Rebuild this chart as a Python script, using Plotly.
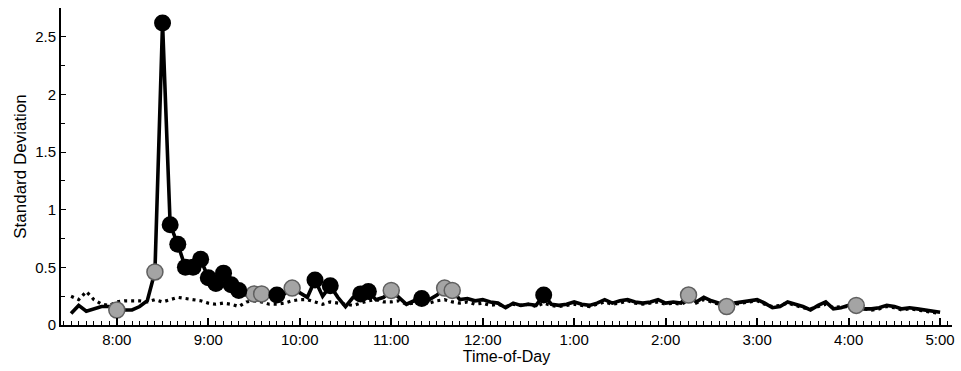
import plotly.graph_objects as go

# time in hours (7:30 .. 17:00, 5-minute steps)
start_hour = 7.5
step_hours = 1.0 / 12.0

solid_sd = [
    0.10, 0.17, 0.12, 0.14, 0.16, 0.16, 0.13, 0.13, 0.13, 0.16,
    0.21, 0.46, 2.62, 0.87, 0.70, 0.50, 0.50, 0.57, 0.41, 0.36,
    0.45, 0.35, 0.30, 0.26, 0.27, 0.27, 0.25, 0.26, 0.27, 0.32,
    0.28, 0.24, 0.39, 0.25, 0.34, 0.24, 0.16, 0.24, 0.27, 0.29,
    0.22, 0.24, 0.30, 0.24, 0.18, 0.21, 0.23, 0.22, 0.26, 0.32,
    0.30, 0.22, 0.23, 0.21, 0.22, 0.20, 0.19, 0.15, 0.19, 0.17,
    0.18, 0.17, 0.26, 0.18, 0.17, 0.18, 0.20, 0.18, 0.17, 0.19,
    0.22, 0.19, 0.21, 0.22, 0.20, 0.19, 0.20, 0.22, 0.19, 0.20,
    0.19, 0.26, 0.20, 0.24, 0.21, 0.19, 0.16, 0.19, 0.20, 0.21,
    0.22, 0.19, 0.15, 0.16, 0.20, 0.18, 0.16, 0.13, 0.17, 0.20,
    0.14, 0.15, 0.17, 0.17, 0.14, 0.14, 0.15, 0.17, 0.16, 0.14,
    0.15, 0.14, 0.13, 0.12, 0.11,
]

dashed_sd = [
    0.25, 0.22, 0.29, 0.22, 0.18, 0.17, 0.20, 0.21, 0.21, 0.21,
    0.20, 0.22, 0.20, 0.22, 0.24, 0.23, 0.22, 0.21, 0.19, 0.18,
    0.19, 0.18, 0.16, 0.20, 0.21, 0.20, 0.18, 0.18, 0.19, 0.21,
    0.22, 0.22, 0.20, 0.18, 0.20, 0.19, 0.18, 0.17, 0.19, 0.21,
    0.22, 0.20, 0.20, 0.21, 0.18, 0.19, 0.20, 0.19, 0.21, 0.22,
    0.20, 0.19, 0.20, 0.18, 0.19, 0.17, 0.18, 0.16, 0.18, 0.17,
    0.18, 0.16, 0.19, 0.17, 0.16, 0.17, 0.18, 0.17, 0.16, 0.18,
    0.20, 0.18, 0.19, 0.21, 0.19, 0.18, 0.19, 0.20, 0.18, 0.19,
    0.18, 0.21, 0.19, 0.22, 0.20, 0.18, 0.17, 0.18, 0.19, 0.20,
    0.21, 0.18, 0.16, 0.17, 0.19, 0.17, 0.15, 0.14, 0.16, 0.18,
    0.15, 0.16, 0.16, 0.16, 0.14, 0.13, 0.14, 0.16, 0.15, 0.13,
    0.14, 0.13, 0.12, 0.11, 0.10,
]

# indices (into the 5-minute grid) of highlighted points on the solid line
black_idx = [12, 13, 14, 15, 16, 17, 18, 19, 20, 21, 22, 27, 32, 34, 38, 39, 46, 62]
gray_idx = [6, 11, 24, 25, 29, 42, 49, 50, 81, 86, 103]

tick_hours = [8, 9, 10, 11, 12, 13, 14, 15, 16, 17]
tick_labels = ["8:00", "9:00", "10:00", "11:00", "12:00", "1:00", "2:00", "3:00", "4:00", "5:00"]
y_ticks = [0, 0.5, 1, 1.5, 2, 2.5]
y_labels = ["0", "0.5", "1", "1.5", "2", "2.5"]

times = [start_hour + i * step_hours for i in range(len(solid_sd))]

fig = go.Figure()
fig.add_trace(go.Scatter(
    x=times, y=dashed_sd, mode="lines",
    line=dict(color="black", width=3.2, dash="3px,4px"),
))
fig.add_trace(go.Scatter(
    x=times, y=solid_sd, mode="lines",
    line=dict(color="black", width=3.6),
))
fig.add_trace(go.Scatter(
    x=[times[i] for i in gray_idx], y=[solid_sd[i] for i in gray_idx], mode="markers",
    marker=dict(size=16, color="#a4a4a4", line=dict(color="#606060", width=1.5)),
))
fig.add_trace(go.Scatter(
    x=[times[i] for i in black_idx], y=[solid_sd[i] for i in black_idx], mode="markers",
    marker=dict(size=17, color="black", line=dict(color="black", width=0)),
))

font = "Liberation Sans, Arial, sans-serif"
fig.update_layout(
    width=961, height=371,
    margin=dict(l=61, r=6, t=8, b=46),
    paper_bgcolor="white", plot_bgcolor="white",
    showlegend=False,
    font=dict(family=font, size=15, color="black"),
    xaxis=dict(
        range=[7.39, 17.13],
        tickmode="array", tickvals=tick_hours, ticktext=tick_labels,
        ticks="inside", ticklen=7, tickwidth=1.5, tickcolor="black",
        minor=dict(tickmode="linear", tick0=8, dtick=1 / 12, ticks="inside",
                   ticklen=4, tickwidth=1, tickcolor="black"),
        showline=True, linecolor="black", linewidth=2,
        showgrid=False, zeroline=False,
        title=dict(text="Time-of-Day", font=dict(size=16), standoff=0),
        tickfont=dict(size=15),
    ),
    yaxis=dict(
        range=[0, 2.75],
        tickmode="array", tickvals=y_ticks, ticktext=y_labels,
        ticks="inside", ticklen=5, tickwidth=1, tickcolor="black",
        minor=dict(tickmode="linear", tick0=0, dtick=0.25, ticks="inside",
                   ticklen=4, tickwidth=1, tickcolor="black"),
        showline=True, linecolor="black", linewidth=2,
        showgrid=False, zeroline=False,
        title=dict(text="Standard Deviation", font=dict(size=17), standoff=4),
        tickfont=dict(size=15),
    ),
)

fig.write_html("out.html")
